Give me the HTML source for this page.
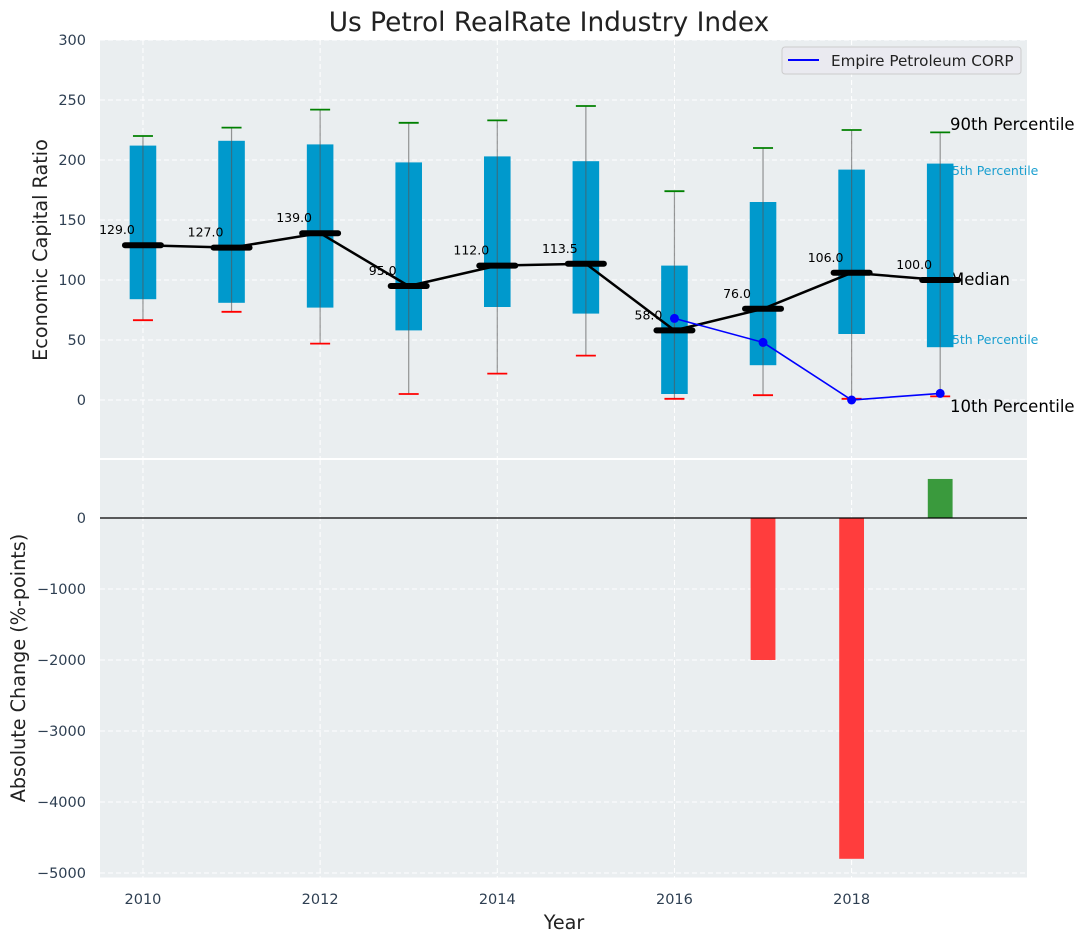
<!DOCTYPE html>
<html><head><meta charset="utf-8">
<style>
html,body{margin:0;padding:0;background:#fff;}
svg{display:block;font-family:"DejaVu Sans","Liberation Sans",sans-serif;}
</style></head>
<body>
<svg id="chart" width="1085" height="942" viewBox="0 0 1085 942" xmlns="http://www.w3.org/2000/svg"></svg>
<script>
const years = [2010,2011,2012,2013,2014,2015,2016,2017,2018,2019];
const p90 = [220,227,242,231,233,245,174,210,225,223];
const p75 = [212,216,213,198,203,199,112,165,192,197];
const medians = [129,127,139,95,112,113.5,58,76,106,100];
const p25 = [84,81,77,58,77.5,72,5,29,55,44];
const p10 = [66.5,73.5,47,5,22,37,1,4,1,3];
const companyYears = [2016,2017,2018,2019];
const companyValues = [68,48,0,5.5];
const changeYears = [2017,2018,2019];
const changeValues = [-2000,-4800,550];
const topTicks = [0,50,100,150,200,250,300];
const bottomTicks = [0,-1000,-2000,-3000,-4000,-5000];
const xTicks = [2010,2012,2014,2016,2018];

const NS="http://www.w3.org/2000/svg";
const svg=document.getElementById('chart');
function el(tag,attrs,parent){const e=document.createElementNS(NS,tag);for(const k in attrs)e.setAttribute(k,attrs[k]);(parent||svg).appendChild(e);return e;}
const L=100,R=1027;
const xmin=2009.515,xmax=2019.98;
const X=v=>L+(v-xmin)/(xmax-xmin)*(R-L);
const T1=40,B1=458;
const Y1=v=>400-v*1.2;
const T2=460,B2=877.5;
const Y2=v=>518-v*0.071;
const tickCol="#2e3f52";
const TF=14.5;

let bg1=el('rect',{x:L,y:T1,width:R-L,height:B1-T1,fill:'#eaeef0'});


let bg2=el('rect',{x:L,y:T2,width:R-L,height:B2-T2,fill:'#eaeef0'});



topTicks.forEach(t=>{
  el('line',{x1:L,x2:R,y1:Y1(t),y2:Y1(t),stroke:'#fff','stroke-dasharray':'5,3','stroke-width':1});
  let tx=el('text',{x:L-14,y:Y1(t)+5,'text-anchor':'end','font-size':TF,fill:tickCol});
  tx.textContent=t;
  
  
});
bottomTicks.forEach(t=>{
  el('line',{x1:L,x2:R,y1:Y2(t),y2:Y2(t),stroke:'#fff','stroke-dasharray':'5,3','stroke-width':1});
  let tx=el('text',{x:L-14,y:Y2(t)+5,'text-anchor':'end','font-size':TF,fill:tickCol});
  tx.textContent=(t<0?'\u2212'+(-t):t);
  
  
});
xTicks.forEach(t=>{
  el('line',{x1:X(t),x2:X(t),y1:T1,y2:B1,stroke:'#fff','stroke-dasharray':'5,3'});
  el('line',{x1:X(t),x2:X(t),y1:T2,y2:B2,stroke:'#fff','stroke-dasharray':'5,3'});
  let tx=el('text',{x:X(t),y:904,'text-anchor':'middle','font-size':TF,fill:tickCol});
  tx.textContent=t;
  
  
});

const ann=[["90th Percentile",950,130,16.5,'#000'],["75th Percentile",944,175,12.5,'#1a9fd0'],["Median",950,285,16.5,'#000'],["25th Percentile",944,344,12.5,'#1a9fd0'],["10th Percentile",950,412,16.5,'#000']];
ann.forEach(a=>{
  let t=el('text',{x:a[1],y:a[2],'font-size':a[3],fill:a[4]});
  t.textContent=a[0];
  
  
});

const bw=0.3;
years.forEach((y,i)=>{
  let b=el('rect',{x:X(y-bw/2),y:Y1(p75[i]),width:X(y+bw/2)-X(y-bw/2),height:Y1(p25[i])-Y1(p75[i]),fill:'#0099cc'});
  
  
  let w=el('line',{x1:X(y),x2:X(y),y1:Y1(p90[i]),y2:Y1(p10[i]),stroke:'#555','stroke-opacity':0.6,'stroke-width':1.2});
  
  
  let g=el('line',{x1:X(y)-10,x2:X(y)+10,y1:Y1(p90[i]),y2:Y1(p90[i]),stroke:'#008000','stroke-width':1.8});
  
  
  let r=el('line',{x1:X(y)-10,x2:X(y)+10,y1:Y1(p10[i]),y2:Y1(p10[i]),stroke:'#ff0000','stroke-width':1.8});
  
  
});
let mp=years.map((y,i)=>X(y)+','+Y1(medians[i])).join(' ');
let ml=el('polyline',{points:mp,fill:'none',stroke:'#000','stroke-width':2.5});


years.forEach((y,i)=>{
  let m=el('line',{x1:X(y)-18,x2:X(y)+18,y1:Y1(medians[i]),y2:Y1(medians[i]),stroke:'#000','stroke-width':6,'stroke-linecap':'round'});
  
  
  let t=el('text',{x:X(y)-26,y:Y1(medians[i])-11,'text-anchor':'middle','font-size':12.5,fill:'#000'});
  t.textContent=medians[i].toFixed(1);
  
  
});
let cp=companyYears.map((y,i)=>X(y)+','+Y1(companyValues[i])).join(' ');
let cl=el('polyline',{points:cp,fill:'none',stroke:'#0000ff','stroke-width':1.6});


companyYears.forEach((y,i)=>{
  let c=el('circle',{cx:X(y),cy:Y1(companyValues[i]),r:4.5,fill:'#0000ff'});
  
  
});

let lg=el('g',{});


el('rect',{x:782,y:47,width:239,height:27,rx:3,fill:'#eaeaf0',stroke:'#ccc'},lg);
el('line',{x1:788,x2:819,y1:60,y2:60,stroke:'#0000ff','stroke-width':2},lg);
let lt=el('text',{x:831,y:66,'font-size':15.2,fill:'#222'},lg);
lt.textContent='Empire Petroleum CORP';



changeYears.forEach((y,i)=>{
  const v=changeValues[i];
  const w=0.28;
  let b=el('rect',{x:X(y-w/2),y:Math.min(Y2(0),Y2(v)),width:X(y+w/2)-X(y-w/2),height:Math.abs(Y2(v)-Y2(0)),fill:v<0?'#ff3d3d':'#3a9a3d'});
  
  
});
let zl=el('line',{x1:L,x2:R,y1:Y2(0),y2:Y2(0),stroke:'#000','stroke-width':1.2});



let ti=el('text',{x:549,y:31,'text-anchor':'middle','font-size':26.4,fill:'#222'});
ti.textContent='Us Petrol RealRate Industry Index';


let y1t=el('text',{x:0,y:0,'text-anchor':'middle','font-size':19.2,fill:'#222',transform:'translate(47,250) rotate(-90)'});
y1t.textContent='Economic Capital Ratio';


let y2t=el('text',{x:0,y:0,'text-anchor':'middle','font-size':19.2,fill:'#222',transform:'translate(25,668) rotate(-90)'});
y2t.textContent='Absolute Change (%-points)';


let xt=el('text',{x:564,y:929,'text-anchor':'middle','font-size':19.2,fill:'#222'});
xt.textContent='Year';


</script>
</body></html>
